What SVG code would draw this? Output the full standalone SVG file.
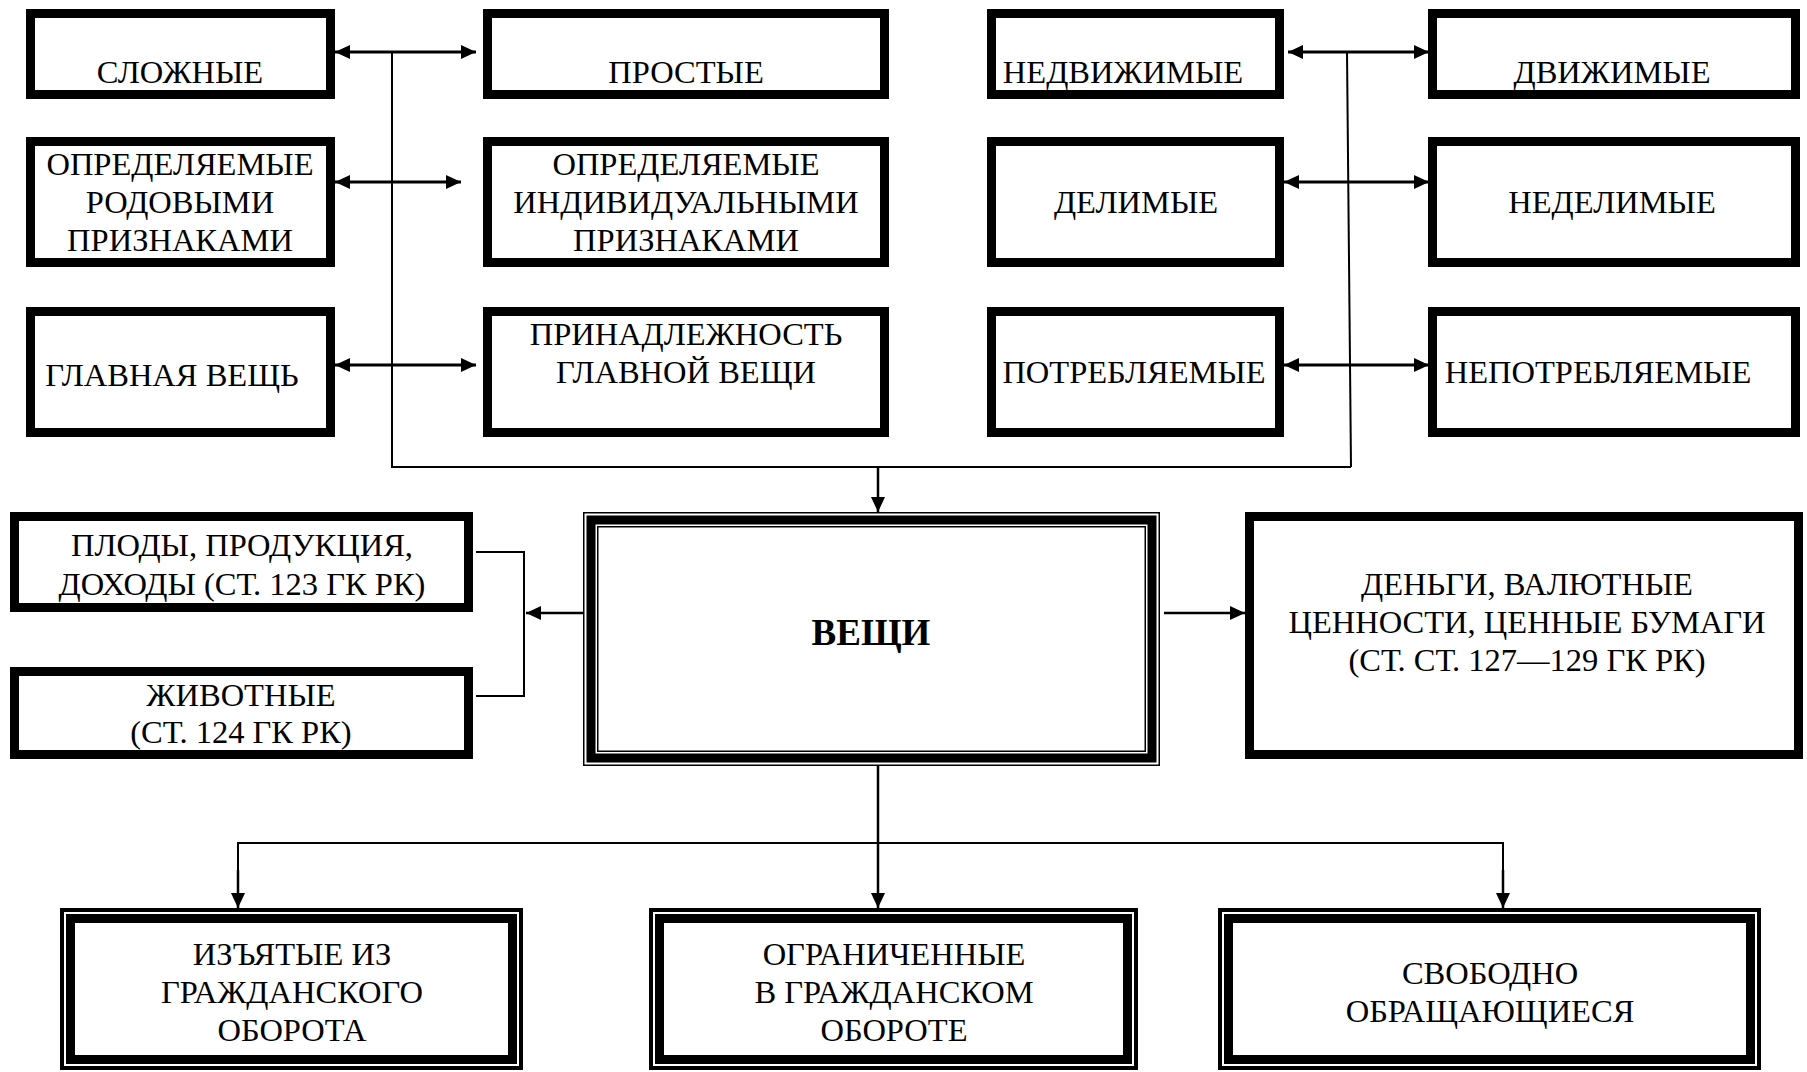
<svg xmlns="http://www.w3.org/2000/svg" width="1807" height="1072" viewBox="0 0 1807 1072">
<defs>
<marker id="ah" viewBox="0 0 15 14" refX="15" refY="7" markerWidth="15" markerHeight="14" markerUnits="userSpaceOnUse" orient="auto-start-reverse">
<path d="M0,0 L15,7 L0,14 z" fill="#000"/>
</marker>
<style>
.box{fill:#fff;stroke:#000;stroke-width:9}
.thin{fill:none;stroke:#000;stroke-width:1.5}
.out4{fill:#fff;stroke:#000;stroke-width:4}
.t{font-family:"Liberation Serif","Times New Roman",serif;font-size:32.5px;text-anchor:middle;fill:#000}
.b{font-weight:bold;font-size:37px}
.ln{fill:none;stroke:#000;stroke-width:2}
.ar{fill:none;stroke:#000;stroke-width:3}
.ar2{fill:none;stroke:#000;stroke-width:2.5}
</style>
</defs>
<rect width="1807" height="1072" fill="#fff"/>

<g id="connectors">
<line class="ar" x1="335" y1="52" x2="476" y2="52" marker-start="url(#ah)" marker-end="url(#ah)"/>
<line class="ar" x1="335" y1="182" x2="461" y2="182" marker-start="url(#ah)" marker-end="url(#ah)"/>
<line class="ar" x1="335" y1="365" x2="476" y2="365" marker-start="url(#ah)" marker-end="url(#ah)"/>
<line class="ln" x1="392" y1="52" x2="392" y2="467"/>
<line class="ar" x1="1288" y1="52" x2="1429" y2="52" marker-start="url(#ah)" marker-end="url(#ah)"/>
<line class="ar" x1="1284" y1="182" x2="1429" y2="182" marker-start="url(#ah)" marker-end="url(#ah)"/>
<line class="ar" x1="1284" y1="365" x2="1429" y2="365" marker-start="url(#ah)" marker-end="url(#ah)"/>
<line class="ln" x1="1347" y1="52" x2="1351" y2="467"/>
<polyline class="ln" points="391,467 1351,467"/>
<line class="ar2" x1="878" y1="467" x2="878" y2="512" marker-end="url(#ah)"/>
<polyline class="ln" points="476,552 524,552 524,696 476,696"/>
<line class="ar2" x1="583" y1="613" x2="526" y2="613" marker-end="url(#ah)"/>
<line class="ar2" x1="1164" y1="613" x2="1245" y2="613" marker-end="url(#ah)"/>
<line class="ar2" x1="878" y1="766" x2="878" y2="908" marker-end="url(#ah)"/>
<polyline class="ln" points="238,908 238,843 1503,843 1503,908"/>
<line class="ar2" x1="238" y1="870" x2="238" y2="908" marker-end="url(#ah)"/>
<line class="ar2" x1="1503" y1="870" x2="1503" y2="908" marker-end="url(#ah)"/>
</g>

<g id="slozhnye"><rect class="box" x="30.5" y="13.5" width="300" height="81"/><text class="t" x="180" y="83">СЛОЖНЫЕ</text></g>
<g id="prostye"><rect class="box" x="487.5" y="13.5" width="397" height="81"/><text class="t" x="686" y="83">ПРОСТЫЕ</text></g>
<g id="nedvizhimye"><rect class="box" x="991.5" y="13.5" width="288" height="81"/><text class="t" x="1123" y="83">НЕДВИЖИМЫЕ</text></g>
<g id="dvizhimye"><rect class="box" x="1432.5" y="13.5" width="363" height="81"/><text class="t" x="1612" y="83">ДВИЖИМЫЕ</text></g>

<g id="rodovye"><rect class="box" x="30.5" y="141.5" width="300" height="121"/><text class="t" x="180" y="175">ОПРЕДЕЛЯЕМЫЕ</text><text class="t" x="180" y="213">РОДОВЫМИ</text><text class="t" x="180" y="251">ПРИЗНАКАМИ</text></g>
<g id="individ"><rect class="box" x="487.5" y="141.5" width="397" height="121"/><text class="t" x="686" y="175">ОПРЕДЕЛЯЕМЫЕ</text><text class="t" x="686" y="213">ИНДИВИДУАЛЬНЫМИ</text><text class="t" x="686" y="251">ПРИЗНАКАМИ</text></g>
<g id="delimye"><rect class="box" x="991.5" y="141.5" width="288" height="121"/><text class="t" x="1136" y="213">ДЕЛИМЫЕ</text></g>
<g id="nedelimye"><rect class="box" x="1432.5" y="141.5" width="363" height="121"/><text class="t" x="1612" y="213">НЕДЕЛИМЫЕ</text></g>

<g id="glavnaya"><rect class="box" x="30.5" y="311.5" width="300" height="121"/><text class="t" x="172" y="386">ГЛАВНАЯ ВЕЩЬ</text></g>
<g id="prinadl"><rect class="box" x="487.5" y="311.5" width="397" height="121"/><text class="t" x="686" y="345">ПРИНАДЛЕЖНОСТЬ</text><text class="t" x="686" y="383">ГЛАВНОЙ ВЕЩИ</text></g>
<g id="potreb"><rect class="box" x="991.5" y="311.5" width="288" height="121"/><text class="t" x="1134" y="383">ПОТРЕБЛЯЕМЫЕ</text></g>
<g id="nepotreb"><rect class="box" x="1432.5" y="311.5" width="363" height="121"/><text class="t" x="1598" y="383">НЕПОТРЕБЛЯЕМЫЕ</text></g>

<g id="plody"><rect class="box" x="14.5" y="516.5" width="454" height="91"/><text class="t" x="242" y="556">ПЛОДЫ, ПРОДУКЦИЯ,</text><text class="t" x="242" y="595">ДОХОДЫ (СТ. 123 ГК РК)</text></g>
<g id="zhivotnye"><rect class="box" x="14.5" y="671.5" width="454" height="83"/><text class="t" x="241" y="706">ЖИВОТНЫЕ</text><text class="t" x="241" y="743">(СТ. 124 ГК РК)</text></g>

<g id="veshchi">
<rect class="thin" x="583.75" y="512.75" width="575.5" height="252.5" fill="#fff"/>
<rect class="box" x="591" y="520" width="561" height="238"/>
<rect class="thin" x="597.75" y="526.75" width="547.5" height="224.5"/>
<text class="t b" x="871" y="645">ВЕЩИ</text>
</g>

<g id="dengi"><rect class="box" x="1249.5" y="516.5" width="549" height="238"/><text class="t" x="1527" y="595">ДЕНЬГИ, ВАЛЮТНЫЕ</text><text class="t" x="1527" y="633">ЦЕННОСТИ, ЦЕННЫЕ БУМАГИ</text><text class="t" x="1527" y="671">(СТ. СТ. 127—129 ГК РК)</text></g>

<g id="izyatye"><rect class="out4" x="62" y="910" width="459" height="158"/><rect class="box" x="70.5" y="918.5" width="442" height="141"/><text class="t" x="292" y="965">ИЗЪЯТЫЕ ИЗ</text><text class="t" x="292" y="1003">ГРАЖДАНСКОГО</text><text class="t" x="292" y="1041">ОБОРОТА</text></g>
<g id="ogranich"><rect class="out4" x="651" y="910" width="485" height="158"/><rect class="box" x="659.5" y="918.5" width="468" height="141"/><text class="t" x="894" y="965">ОГРАНИЧЕННЫЕ</text><text class="t" x="894" y="1003">В ГРАЖДАНСКОМ</text><text class="t" x="894" y="1041">ОБОРОТЕ</text></g>
<g id="svobodno"><rect class="out4" x="1220" y="910" width="539" height="158"/><rect class="box" x="1228.5" y="918.5" width="522" height="141"/><text class="t" x="1490" y="984">СВОБОДНО</text><text class="t" x="1490" y="1022">ОБРАЩАЮЩИЕСЯ</text></g>
</svg>
